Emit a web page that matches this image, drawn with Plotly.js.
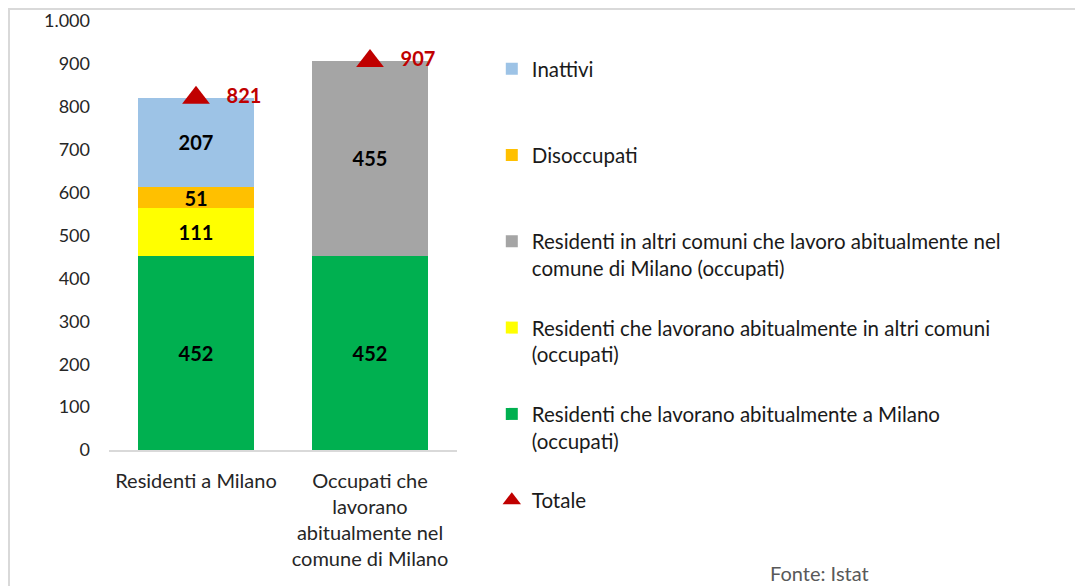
<!DOCTYPE html>
<html><head><meta charset="utf-8">
<script src="https://cdn.plot.ly/plotly-3.0.1.min.js"></script>
<style>
html,body{margin:0;padding:0;background:#fff;overflow:hidden;}
#frame{position:absolute;left:8px;top:8px;width:1100px;height:620px;border-left:2px solid #d9d9d9;border-top:2px solid #d9d9d9;box-sizing:border-box;}
#chart{position:absolute;left:0;top:0;width:1075px;height:586px;}
</style>
</head><body>
<div id="frame"></div>
<div id="chart"></div>
<script>
const categories = ["Residenti a Milano", "Occupati che<br>lavorano<br>abitualmente nel<br>comune di Milano"];
const seriesNames = {
  green: "Residenti che lavorano abitualmente a Milano<br>(occupati)",
  yellow: "Residenti che lavorano abitualmente in altri comuni<br>(occupati)",
  grey: "Residenti in altri comuni che lavoro abitualmente nel<br>comune di Milano (occupati)",
  orange: "Disoccupati<br>\u00a0",
  blue: "Inattivi<br>\u00a0",
  total: "Totale"
};
const greenVals  = [452, 452];
const yellowVals = [111, null];
const greyVals   = [null, 455];
const orangeVals = [51, null];
const blueVals   = [207, null];
const totalVals  = [821, 907];
const yTickVals = [0,100,200,300,400,500,600,700,800,900,1000];

const FONT = "Lato, 'Open Sans', sans-serif";
const labelFont = {family: FONT, size: 20, color: "#000000", weight: "bold"};

function barTrace(name, vals, color, rank){
  return {
    type: "bar", x: categories, y: vals, name: name,
    marker: {color: color},
    text: vals.map(v => v == null ? "" : String(v)),
    textposition: "inside", insidetextanchor: "middle",
    textangle: 0, constraintext: "none",
    textfont: labelFont,
    hoverinfo: "skip",
    legendrank: rank, legendgroup: "g" + rank
  };
}

const data = [
  barTrace(seriesNames.green, greenVals, "#00B050", 5),
  barTrace(seriesNames.yellow, yellowVals, "#FFFF00", 4),
  barTrace(seriesNames.grey, greyVals, "#A5A5A5", 3),
  barTrace(seriesNames.orange, orangeVals, "#FFC000", 2),
  barTrace(seriesNames.blue, blueVals, "#9DC3E6", 1),
  {
    type: "scatter", mode: "markers+text", x: categories, y: totalVals,
    name: seriesNames.total,
    marker: {symbol: "triangle-up", size: 24, color: "#C00000"},
    text: totalVals.map(v => "\u00a0\u00a0\u00a0" + v),
    textposition: "middle right",
    textfont: {family: FONT, size: 20, color: "#C00000", weight: "bold"},
    cliponaxis: false,
    legendrank: 6, legendgroup: "g6"
  }
];

const layout = {
  width: 1075, height: 586,
  margin: {l: 109, r: 618, t: 21, b: 136, pad: 0},
  paper_bgcolor: "rgba(0,0,0,0)", plot_bgcolor: "rgba(0,0,0,0)",
  barmode: "stack", bargap: 0.33,
  separators: ",.",
  font: {family: FONT, size: 17, color: "#262626"},
  showlegend: true,
  xaxis: {
    type: "category", range: [-0.5, 1.5],
    showline: true, linecolor: "#d9d9d9", linewidth: 1.5,
    showgrid: false, ticks: "", zeroline: false,
    tickfont: {family: FONT, size: 20, color: "#262626"},
    ticklabelstandoff: 12
  },
  yaxis: {
    range: [0, 1000], tickvals: yTickVals, tickformat: ",d",
    showgrid: false, zeroline: false, showline: false, ticks: "",
    tickfont: {family: FONT, size: 18, color: "#262626"},
    ticklabelstandoff: 18
  },
  legend: {
    x: 1.10, xanchor: "left", y: 0.935, yanchor: "top",
    valign: "top", traceorder: "grouped", tracegroupgap: 30,
    maxheight: 1000,
    font: {family: FONT, size: 20.5, color: "#1a1a1a"},
    bgcolor: "rgba(0,0,0,0)"
  },
  annotations: [{
    xref: "paper", yref: "paper", x: 1.894, y: -0.287,
    xanchor: "left", yanchor: "middle", showarrow: false,
    text: "Fonte: Istat", font: {family: FONT, size: 20, color: "#595959"}
  }]
};

Plotly.newPlot("chart", data, layout, {displayModeBar: false, staticPlot: true});
</script>
</body></html>
